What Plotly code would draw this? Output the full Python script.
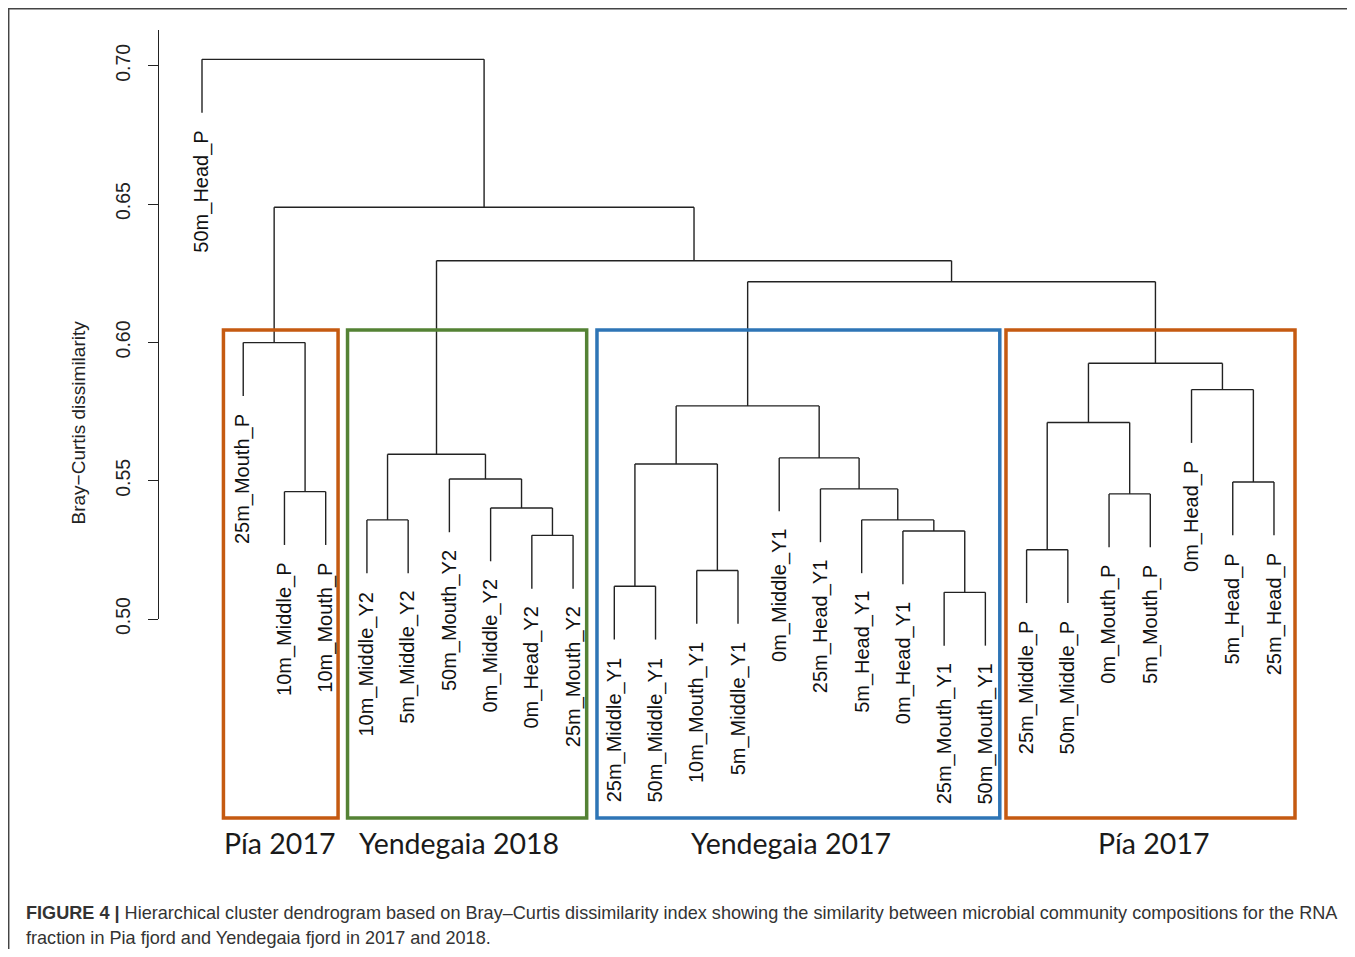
import plotly.graph_objects as go

# ---------------- data ----------------
leaves = ["50m_Head_P", "25m_Mouth_P", "10m_Middle_P", "10m_Mouth_P",
          "10m_Middle_Y2", "5m_Middle_Y2", "50m_Mouth_Y2", "0m_Middle_Y2",
          "0m_Head_Y2", "25m_Mouth_Y2", "25m_Middle_Y1", "50m_Middle_Y1",
          "10m_Mouth_Y1", "5m_Middle_Y1", "0m_Middle_Y1", "25m_Head_Y1",
          "5m_Head_Y1", "0m_Head_Y1", "25m_Mouth_Y1", "50m_Mouth_Y1",
          "25m_Middle_P", "50m_Middle_P", "0m_Mouth_P", "5m_Mouth_P",
          "0m_Head_P", "5m_Head_P", "25m_Head_P"]

# hclust-style merges: negative = leaf (1-based position), positive = earlier merge (1-based)
merge_left = [-3, -2, -9, -8, -7, -5, 6, -11, -13, 8, -19, -18, -17, -16, -15,
              10, -21, -23, 17, -26, -25, 19, 16, 7, 2, -1]
merge_right = [-4, 1, -10, 3, 4, -6, 5, -12, -14, 9, -20, 11, 12, 13, 14,
               15, -22, -24, 18, -27, 20, 21, 22, 23, 24, 25]
merge_height = [0.5460, 0.5999, 0.5302, 0.5401, 0.5506, 0.5358, 0.5595, 0.5118,
                0.5175, 0.5560, 0.5096, 0.5318, 0.5358, 0.5470, 0.5582, 0.5770,
                0.5250, 0.5452, 0.5710, 0.5495, 0.5829, 0.5924, 0.6219, 0.6295,
                0.6488, 0.7023]

tick_vals = [0.50, 0.55, 0.60, 0.65, 0.70]
tick_text = ["0.50", "0.55", "0.60", "0.65", "0.70"]

group_names = ["Pía 2017", "Yendegaia 2018", "Yendegaia 2017", "Pía 2017"]
group_first_leaf = [2, 5, 11, 21]
group_last_leaf = [4, 10, 20, 27]
group_colors = ["#C55A11", "#548235", "#2E75B6", "#C55A11"]

y_title = "Bray\u2212Curtis dissimilarity"
caption_bold = "FIGURE 4 |"
caption_line1 = (" Hierarchical cluster dendrogram based on Bray\u2013Curtis dissimilarity index "
                 "showing the similarity between microbial community compositions for the RNA")
caption_line2 = "fraction in Pia fjord and Yendegaia fjord in 2017 and 2018."

# ---------------- geometry (pixel mapping) ----------------
# the page body has an 8px margin; figure is sized so the page is exactly 1355x957
OFF = 8
W, H = 1355 - 2 * OFF, 957 - 2 * OFF
LEAF0_PX, LEAF_DX = 202.0, 41.23
Y70_PX, PX_PER_UNIT = 65.7, 2766.0


def xd(px):  # page px -> data x
    return 1 + (px - LEAF0_PX) / LEAF_DX


def yd(py):  # page px -> data y
    return 0.70 - (py - Y70_PX) / PX_PER_UNIT


def px_paper_x(px):
    return (px - OFF) / W


def px_paper_y(py):
    return 1 - (py - OFF) / H


hang = 0.1 * (max(merge_height) - min(merge_height))

node_x = {}


def child_x(c):
    return float(-c) if c < 0 else node_x[c]


for k in range(len(merge_height)):
    node_x[k + 1] = (child_x(merge_left[k]) + child_x(merge_right[k])) / 2

seg_x, seg_y = [], []
leaf_bottom = {}
for k in range(len(merge_height)):
    h = merge_height[k]
    xl, xr = child_x(merge_left[k]), child_x(merge_right[k])
    for c, xc in ((merge_left[k], xl), (merge_right[k], xr)):
        if c < 0:
            bottom = h - hang
            leaf_bottom[-c] = bottom
        else:
            bottom = merge_height[c - 1]
        seg_x += [xc, xc, None]
        seg_y += [h, bottom, None]
    seg_x += [xl, xr, None]
    seg_y += [h, h, None]

fig = go.Figure()
fig.add_trace(go.Scatter(x=seg_x, y=seg_y, mode="lines",
                         line=dict(color="#222222", width=1.4),
                         hoverinfo="skip", showlegend=False))
# dummy trace to anchor the visible y axis
fig.add_trace(go.Scatter(x=[1], y=[0.6], xaxis="x", yaxis="y2", mode="markers",
                         marker=dict(opacity=0), hoverinfo="skip", showlegend=False))

ann = []
for i, name in enumerate(leaves, start=1):
    ann.append(dict(x=i, y=leaf_bottom[i], xref="x", yref="y", text=name,
                    textangle=-90, xanchor="center", yanchor="top", yshift=-16,
                    showarrow=False,
                    font=dict(family="Liberation Sans, Arial", size=20, color="#111111")))

ann.append(dict(x=px_paper_x(77.5), y=px_paper_y(423), xref="paper", yref="paper",
                text=y_title, textangle=-90, showarrow=False,
                xanchor="center", yanchor="middle",
                font=dict(family="Liberation Sans, Arial", size=19, color="#222222")))

# group boxes and labels
shapes = []
label_centers_px = [279.5, 459, 790.5, 1153.5]
box_left_off = [0.48, 0.47, 0.42, 0.5]
box_right_off = [0.30, 0.33, 0.35, 0.51]
for g in range(len(group_names)):
    x0 = group_first_leaf[g] - box_left_off[g]
    x1 = group_last_leaf[g] + box_right_off[g]
    shapes.append(dict(type="rect", xref="x", yref="y", x0=x0, x1=x1,
                       y0=yd(818), y1=yd(330),
                       line=dict(color=group_colors[g], width=3.5)))
    ann.append(dict(x=xd(label_centers_px[g]), y=yd(843), xref="x", yref="y",
                    text=group_names[g], showarrow=False,
                    xanchor="center", yanchor="middle",
                    font=dict(family="Lato, Open Sans", size=28.5, color="#1a1a1a")))

# figure border (left and top edges visible)
shapes.append(dict(type="rect", xref="paper", yref="paper",
                   x0=px_paper_x(8.7), x1=1.05, y0=-0.05, y1=px_paper_y(8.7),
                   line=dict(color="#444444", width=1.5)))

# caption
ann.append(dict(x=px_paper_x(24), y=px_paper_y(913), xref="paper", yref="paper",
                text="<b>" + caption_bold + "</b>" + caption_line1,
                showarrow=False, xanchor="left", yanchor="middle", align="left",
                font=dict(family="Liberation Sans, Arial", size=18.1, color="#333333")))
ann.append(dict(x=px_paper_x(24), y=px_paper_y(938), xref="paper", yref="paper",
                text=caption_line2,
                showarrow=False, xanchor="left", yanchor="middle", align="left",
                font=dict(family="Liberation Sans, Arial", size=18.1, color="#333333")))

fig.update_layout(
    template="none",
    width=W, height=H,
    margin=dict(l=0, r=0, t=0, b=0, pad=0, autoexpand=False),
    paper_bgcolor="white", plot_bgcolor="rgba(0,0,0,0)",
    showlegend=False,
    xaxis=dict(domain=[0, 1], range=[xd(OFF), xd(OFF + W)], visible=False,
               automargin=False, fixedrange=True),
    yaxis=dict(domain=[0, 1], range=[yd(OFF + H), yd(OFF)], visible=False,
               automargin=False, fixedrange=True),
    yaxis2=dict(domain=[px_paper_y(619), px_paper_y(30)],
                range=[0.50, yd(30)], anchor="free", position=px_paper_x(158),
                automargin=False,
                showline=True, linecolor="#222222", linewidth=1.3,
                ticks="outside", ticklen=10, tickwidth=1.3, tickcolor="#222222",
                tickvals=tick_vals, ticktext=tick_text, tickangle=-90,
                ticklabelstandoff=10,
                tickfont=dict(family="Liberation Sans, Arial", size=19.5, color="#222222"),
                showgrid=False, zeroline=False, fixedrange=True),
    shapes=shapes,
    annotations=ann,
)

fig.write_html("out.html")
